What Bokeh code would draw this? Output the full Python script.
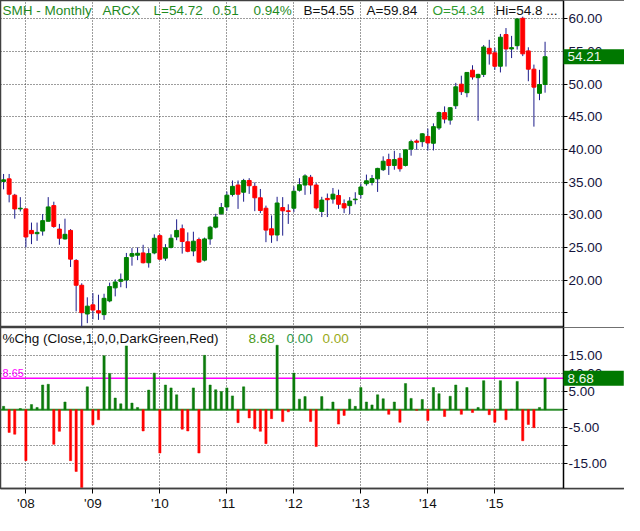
import numpy as np
import pandas as pd
from bokeh.plotting import figure
from bokeh.layouts import column
from bokeh.models import Range1d, FixedTicker, Span, Label, ColumnDataSource, BoxAnnotation
from bokeh.embed import file_html
from bokeh.resources import INLINE

# ---------------- data (SMH monthly, Sep 2007 - Oct 2015) ----------------
months = pd.date_range("2007-09-01", periods=98, freq="MS")

open_ = [35.1, 35.5, 33.0, 30.9, 30.9, 27.6, 27.1, 27.5, 29.0, 31.4,
         27.8, 26.3, 27.6, 23.0, 19.2, 14.8, 16.2, 15.3, 14.7, 16.8,
         18.8, 19.8, 20.0, 23.65, 23.8, 24.15, 22.65, 24.15, 26.8, 23.35,
         25.0, 26.6, 27.85, 25.85, 24.45, 26.2, 23.05, 26.3, 28.1, 30.15,
         31.2, 33.1, 34.55, 33.45, 35.25, 34.35, 32.6, 31.0, 27.85, 26.9,
         31.1, 30.6, 31.0, 33.75, 34.55, 35.75, 34.55, 30.5, 32.5, 32.4,
         32.95, 31.7, 31.4, 32.3, 33.1, 34.75, 34.95, 35.5, 36.9, 38.45,
         37.55, 38.65, 37.55, 40.05, 41.3, 41.2, 42.0, 40.95, 43.3, 45.65,
         44.5, 46.7, 50.0, 48.7, 52.15, 51.0, 51.5, 55.5, 54.8, 52.75,
         57.6, 55.4, 55.9, 60.1, 55.1, 52.3, 48.6, 49.95]
high = [36.25, 36.25, 33.2, 32.7, 31.0, 28.8, 28.8, 30.1, 32.7, 32.0,
        28.6, 29.4, 27.8, 23.2, 19.5, 17.35, 18.0, 17.75, 17.9, 19.6,
        20.1, 21.0, 24.15, 24.9, 25.0, 25.4, 24.85, 27.0, 27.0, 25.5,
        27.0, 29.3, 28.5, 27.3, 27.4, 26.5, 26.5, 28.3, 30.15, 31.8,
        33.55, 35.25, 35.25, 35.5, 35.6, 34.95, 33.95, 31.4, 29.9, 32.75,
        32.7, 31.6, 34.35, 35.6, 36.2, 36.1, 34.85, 32.75, 33.25, 34.1,
        33.85, 32.35, 32.7, 33.45, 34.75, 36.15, 36.1, 37.2, 38.95, 39.35,
        39.8, 39.45, 39.95, 41.5, 41.55, 42.5, 43.2, 44.0, 45.8, 46.6,
        46.5, 50.2, 51.3, 51.8, 52.9, 51.6, 56.0, 56.8, 55.6, 57.7,
        58.6, 57.4, 60.1, 60.35, 55.65, 53.0, 52.2, 56.5]
low = [33.9, 31.9, 29.4, 30.5, 25.0, 25.5, 26.0, 26.8, 29.0, 28.0,
       25.4, 26.2, 22.0, 15.2, 12.9, 13.4, 14.0, 13.9, 13.9, 16.6,
       17.5, 18.9, 18.75, 22.2, 23.05, 22.55, 21.9, 23.95, 23.05, 22.95,
       24.85, 26.1, 24.05, 24.25, 23.65, 22.65, 22.85, 25.4, 27.9, 30.0,
       30.6, 32.8, 30.9, 32.0, 33.2, 30.55, 30.25, 25.8, 25.7, 25.95,
       26.8, 28.6, 30.4, 33.55, 33.05, 33.15, 30.8, 29.65, 29.65, 31.7,
       30.9, 30.25, 30.1, 31.6, 32.5, 34.45, 34.5, 33.5, 36.7, 36.1,
       36.9, 36.6, 37.4, 39.05, 39.95, 40.4, 39.85, 39.85, 43.0, 44.0,
       43.8, 46.2, 48.35, 48.0, 50.7, 44.4, 51.1, 53.0, 52.2, 51.8,
       52.7, 54.0, 55.3, 54.3, 50.45, 43.5, 47.55, 48.7]
close = [35.35, 33.15, 30.9, 31.0, 26.6, 27.1, 27.3, 29.1, 31.2, 28.2,
         26.4, 27.0, 23.2, 19.2, 15.0, 16.0, 15.4, 14.95, 17.2, 19.0,
         19.7, 20.1, 23.45, 24.05, 24.1, 22.65, 24.05, 26.4, 23.2, 24.95,
         26.4, 27.6, 25.9, 24.4, 25.95, 22.75, 26.3, 28.1, 29.65, 31.1,
         33.0, 34.35, 33.15, 35.25, 34.45, 32.6, 30.65, 27.65, 26.9, 31.8,
         30.6, 30.5, 33.6, 34.6, 35.95, 34.55, 31.05, 32.25, 32.3, 33.15,
         31.6, 31.05, 32.1, 32.4, 34.25, 35.2, 35.55, 37.1, 38.2, 37.55,
         38.45, 37.05, 39.95, 41.2, 41.1, 42.4, 41.0, 43.5, 45.65, 44.65,
         46.4, 49.6, 48.85, 51.8, 51.1, 51.5, 55.7, 54.65, 52.75, 57.2,
         55.4, 55.6, 60.0, 54.65, 52.3, 49.55, 49.95, 54.21]
pct_chg = [0.9, -6.3, -6.8, 0.3, -14.1, 1.4, 0.6, 6.8, 7.0, -9.6,
           -6.0, 2.1, -14.1, -17.1, -21.5, 6.3, -4.2, -2.8, 14.9, 10.0,
           3.2, 1.6, 17.6, 1.8, 0.6, -5.9, 5.4, 10.1, -12.0, 6.8,
           6.0, 4.1, -5.4, -5.9, 6.0, -12.0, 15.0, 6.8, 5.5, 5.0,
           6.0, 3.8, -3.6, 6.3, -2.3, -5.3, -6.0, -9.4, -2.5, 17.8,
           -3.3, -0.6, 10.1, 2.9, 3.6, -3.3, -10.2, 3.6, 0.1, 2.1,
           -4.0, -1.6, 2.9, 0.9, 6.1, 2.1, 1.3, 4.1, 3.0, -1.3,
           2.1, -3.5, 7.2, 3.1, -0.2, 2.8, -3.0, 6.1, 4.4, -1.9,
           3.7, 6.8, -1.3, 6.1, -0.8, 0.6, 8.0, -1.4, -3.5, 8.0,
           -2.8, 0.1, 7.8, -8.6, -4.1, -5.0, 0.6, 8.68]
year_labels = ["'08", "'09", "'10", "'11", "'12", "'13", "'14", "'15"]
price_ticks = [15, 20, 25, 30, 35, 40, 45, 50, 55, 60]
pct_ticks = [-15, -10, -5, 0, 5, 10, 15]
pct_labelled = [15, 10, 5, -5, -15]
last_close = 54.21
last_pct = 8.68
level_line = 8.65

header_top = [("SMH - Monthly", "#1f8a1f"), ("ARCX", "#1f8a1f"), ("L=54.72", "#1f8a1f"),
              ("0.51", "#1f8a1f"), ("0.94%", "#1f8a1f"), ("B=54.55", "#111111"),
              ("A=59.84", "#111111"), ("O=54.34", "#2f9a2f"), ("Hi=54.8 ...", "#111111")]
header_top_x = [2, 102, 153, 212, 253, 303, 366, 432, 495]
header_bot = [("%Chg (Close,1,0,0,DarkGreen,Red)", "#111111"), ("8.68", "#4a9a1a"),
              ("0.00", "#2e9a4a"), ("0.00", "#9aaa1a")]
header_bot_x = [2, 248, 286, 322]

# ---------------- layout constants ----------------
W = 624
AXW = 61                 # width of the price-scale strip on the right
H1 = 327
H2 = 188
XB = 27
X_START = -0.55
X_AXIS = 100.3           # x position where the right price scale sits
X_END = X_START + (X_AXIS - X_START) * W / (W - AXW)
FONT = "Liberation Sans"
FS = "13.5px"
GRID_COLOR = "#3a3a3a"

x = np.arange(len(close))
jan_idx = [i for i, m in enumerate(months) if m.month == 1]

o = np.array(open_)
c = np.array(close)
src = ColumnDataSource(dict(
    x=x, high=high, low=low,
    top=np.maximum(o, c), bottom=np.minimum(o, c),
    color=["#008000" if cc >= oo else "#ff0000" for oo, cc in zip(open_, close)],
))


def style_axis(ax):
    ax.axis_line_color = "black"
    ax.axis_line_width = 1.5
    ax.major_tick_out = 4
    ax.major_tick_in = 0
    ax.minor_tick_out = 0
    ax.minor_tick_in = 0
    ax.major_tick_line_color = "black"
    ax.major_label_standoff = 1
    ax.major_label_text_font = FONT
    ax.major_label_text_font_size = FS
    ax.major_label_text_color = "#14143c"


def value_box(val, right_pad):
    return Label(x=W - AXW, y=val, x_units="screen", y_units="data", text=f"{val:.2f}",
                 text_font=FONT, text_font_size=FS, text_color="#eef6ee",
                 text_baseline="middle", text_align="left",
                 background_fill_color="#007800", background_fill_alpha=1.0,
                 padding=(4, right_pad, 3, 3))


def make_fig(height, y_range, x_axis_loc, bottom_border):
    p = figure(width=W, height=height, x_range=xr, y_range=y_range,
               y_axis_location="right", x_axis_location=x_axis_loc,
               output_backend="svg", toolbar_location=None,
               min_border_left=0, min_border_right=0, min_border_top=0,
               min_border_bottom=bottom_border)
    p.background_fill_color = "white"
    p.border_fill_color = "white"
    p.outline_line_color = "#404040"
    p.outline_line_width = 1.5
    p.yaxis.fixed_location = X_AXIS
    return p


def style_grid(p, yticks):
    p.xgrid.ticker = FixedTicker(ticks=jan_idx)
    p.ygrid.ticker = FixedTicker(ticks=yticks)
    for g in (p.xgrid, p.ygrid):
        g.grid_line_color = GRID_COLOR
        g.grid_line_dash = "1 2"
        g.grid_line_width = 1


def cover_strip():
    return BoxAnnotation(left=X_AXIS, fill_color="white", fill_alpha=1.0,
                         line_color=None, level="underlay")


xr = Range1d(X_START, X_END)

# ---------------- top panel: candles ----------------
p1 = make_fig(H1, Range1d(12.73, 62.82), None, 0)
style_grid(p1, price_ticks)
p1.add_layout(cover_strip())

p1.segment(x0="x", y0="high", x1="x", y1="low", source=src, line_color="#1c1c8a", line_width=1)
p1.vbar(x="x", top="top", bottom="bottom", width=0.7, source=src,
        fill_color="color", line_color="color", line_width=1)

p1.yaxis.ticker = FixedTicker(ticks=price_ticks)
p1.yaxis.major_label_overrides = {t: ("" if t == 15 else f"{t:.2f}") for t in price_ticks}
style_axis(p1.yaxis[0])

for (txt, col), xx in zip(header_top, header_top_x):
    p1.add_layout(Label(x=xx, y=H1 - 10, x_units="screen", y_units="screen", text=txt,
                        text_font=FONT, text_font_size=FS, text_color=col,
                        text_baseline="middle", text_align="left"))

p1.add_layout(value_box(last_close, 30))

# ---------------- bottom panel: %Chg ----------------
p2 = make_fig(H2, Range1d(-21.8, 22.7), "below", XB)
style_grid(p2, pct_ticks)

p2.add_layout(Span(location=0, dimension="width", line_color="#2f8f2f", line_width=2, level="underlay"))
p2.add_layout(Span(location=level_line, dimension="width", line_color="#ff00ff", line_width=1.5,
                   level="underlay"))
p2.add_layout(cover_strip())

bar_src = ColumnDataSource(dict(x=x, top=pct_chg,
                                color=["#0b7a0b" if v >= 0 else "#ff0000" for v in pct_chg]))
p2.vbar(x="x", top="top", bottom=0, width=0.4, source=bar_src,
        fill_color="color", line_color="color", line_width=0.5)

p2.yaxis.ticker = FixedTicker(ticks=pct_ticks)
p2.yaxis.major_label_overrides = {t: (f"{t:.2f}" if t in pct_labelled else "") for t in pct_ticks}
style_axis(p2.yaxis[0])

p2.xaxis.ticker = FixedTicker(ticks=jan_idx)
p2.xaxis.major_label_overrides = {i: lab for i, lab in zip(jan_idx, year_labels)}
style_axis(p2.xaxis[0])
p2.xaxis.axis_line_color = "#404040"
p2.xaxis.major_tick_out = 5
p2.xaxis.major_label_standoff = 2
p2.xaxis.major_label_text_color = "#111111"

FH2 = H2 - XB
for (txt, col), xx in zip(header_bot, header_bot_x):
    p2.add_layout(Label(x=xx, y=FH2 - 11, x_units="screen", y_units="screen", text=txt,
                        text_font=FONT, text_font_size=FS, text_color=col,
                        text_baseline="middle", text_align="left"))

p2.add_layout(Label(x=2, y=level_line, x_units="screen", y_units="data", text=f"{level_line:.2f}",
                    text_font=FONT, text_font_size="11px", text_color="#ff00ff",
                    text_baseline="bottom", text_align="left", y_offset=1))

p2.add_layout(value_box(last_pct, 30))

layout = column(p1, p2, spacing=0)
open("out.html", "w").write(file_html(layout, INLINE))
